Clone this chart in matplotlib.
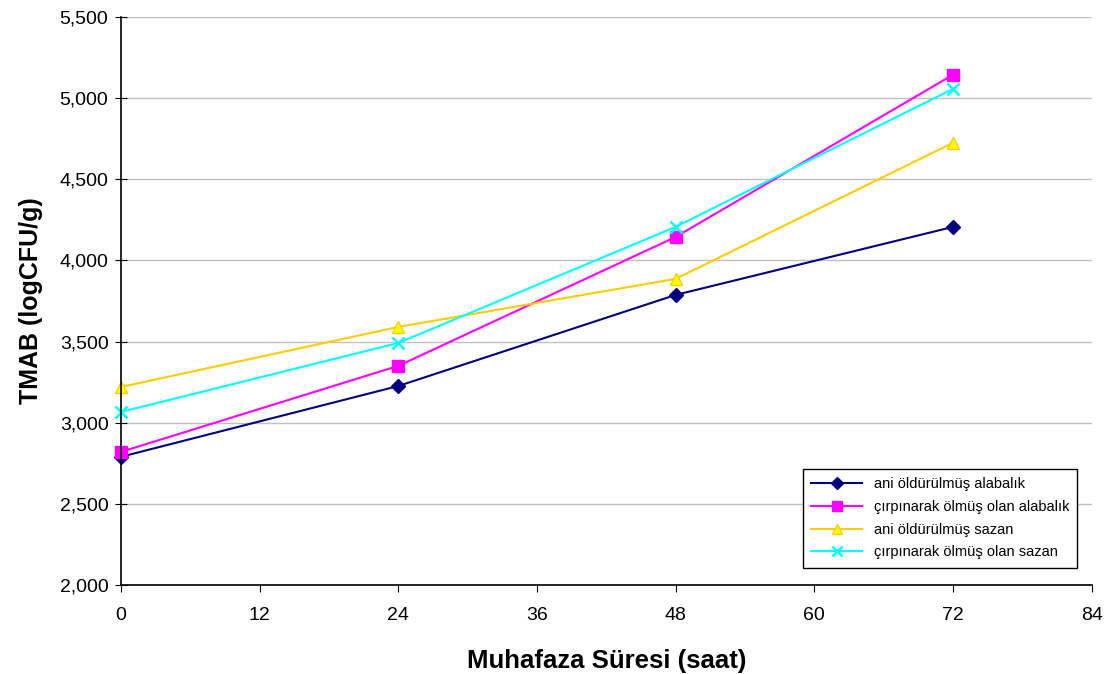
import numpy as np
import matplotlib.pyplot as plt
from matplotlib.ticker import FuncFormatter

plt.rcParams['font.family'] = ['Liberation Sans', 'DejaVu Sans']

saat = [0, 24, 48, 72]
ani_alabalik = [2.790, 3.226, 3.787, 4.206]
cirpinarak_alabalik = [2.820, 3.350, 4.144, 5.143]
ani_sazan = [3.220, 3.590, 3.886, 4.724]
cirpinarak_sazan = [3.066, 3.491, 4.206, 5.056]

etiketler = ['ani öldürülmüş alabalık', 'çırpınarak ölmüş olan alabalık',
             'ani öldürülmüş sazan', 'çırpınarak ölmüş olan sazan']

fig = plt.figure(figsize=(11.15, 6.74), dpi=100)
ax = fig.add_axes([0.1085, 0.132, 0.8705, 0.843])

ax.plot(saat, ani_alabalik, color='#000080', marker='D', markersize=7, lw=1.5,
        clip_on=False, label=etiketler[0])
ax.plot(saat, cirpinarak_alabalik, color='#FF00FF', marker='s', markersize=8, lw=1.5,
        clip_on=False, label=etiketler[1])
ax.plot(saat, ani_sazan, color='#FFCC00', marker='^', markersize=9, lw=1.5,
        markerfacecolor='#FFFF00', markeredgecolor='#FFCC00', clip_on=False, label=etiketler[2])
ax.plot(saat, cirpinarak_sazan, color='#00FFFF', marker='x', markersize=9, mew=1.8, lw=1.5,
        clip_on=False, label=etiketler[3])

ax.set_xlim(0, 84)
ax.set_ylim(2.0, 5.5)
ax.set_xticks(np.arange(0, 85, 12))
ax.set_yticks(np.arange(2.0, 5.51, 0.5))
ax.yaxis.set_major_formatter(FuncFormatter(lambda v, p: ('%.3f' % v).replace('.', ',')))
ax.yaxis.grid(True, color='#C0C0C0', lw=1)
ax.set_axisbelow(True)

for s in ['top', 'right']:
    ax.spines[s].set_visible(False)
ax.spines['left'].set_linewidth(1.2)
ax.spines['bottom'].set_linewidth(1.2)
ax.tick_params(axis='y', direction='inout', length=8, labelsize=14, pad=5)
ax.tick_params(axis='x', direction='out', length=5, labelsize=14, pad=11)

ax.set_xlabel('Muhafaza Süresi (saat)', fontsize=18.5, fontweight='bold', labelpad=18)
ax.set_ylabel('TMAB (logCFU/g)', fontsize=18, fontweight='bold', labelpad=12)

leg = ax.legend(loc='lower right', bbox_to_anchor=(0.993, 0.018), fontsize=10.5, frameon=True,
                fancybox=False, edgecolor='black', framealpha=1, handlelength=3.5,
                borderpad=0.55, labelspacing=0.6, markerscale=0.85)
leg.get_frame().set_linewidth(1)

fig.savefig('out.png', dpi=100)
